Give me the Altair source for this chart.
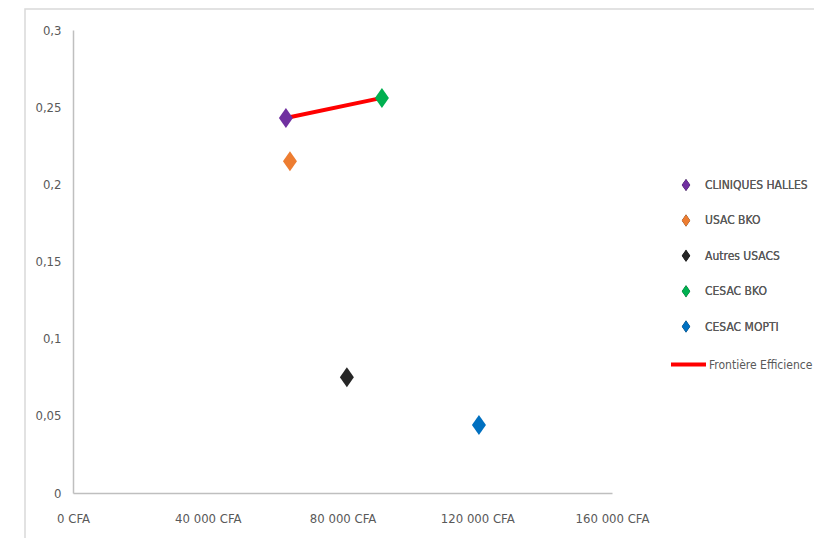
import altair as alt
import pandas as pd

names = ["CLINIQUES HALLES", "USAC BKO", "Autres USACS", "CESAC BKO", "CESAC MOPTI"]
cost = [63200, 64400, 81300, 91700, 120500]
effect = [0.243, 0.215, 0.075, 0.256, 0.044]
colors = ["#7030A0", "#ED7D31", "#262626", "#00B050", "#0070C0"]
frontier_label = "Frontière Efficience"
frontier_color = "#FF0000"
frontier_names = ["CLINIQUES HALLES", "CESAC BKO"]

FONT = "DejaVu Sans Condensed, Liberation Sans Narrow, Roboto Condensed, Roboto, sans-serif"
GREY = "#595959"

pts = pd.DataFrame({"name": names, "cost": cost, "effect": effect})
front = pts[pts["name"].isin(frontier_names)].sort_values("cost").copy()
front["label"] = frontier_label

diamond = "M0,-1L0.7,0L0,1L-0.7,0Z"

xscale = alt.Scale(domain=[0, 160000], nice=False, zero=True)
yscale = alt.Scale(domain=[0, 0.3], nice=False)

xaxis = alt.Axis(values=[0, 40000, 80000, 120000, 160000], title=None, grid=False, ticks=False,
                 labelExpr="replace(format(datum.value, ','), ',', ' ') + ' CFA'",
                 labelFont=FONT, labelFontSize=13, labelColor=GREY, labelPadding=19,
                 domainColor="#BFBFBF", domainWidth=1.5, labelFlush=False, zindex=1)
yaxis = alt.Axis(values=[0, 0.05, 0.1, 0.15, 0.2, 0.25, 0.3], title=None, grid=False, ticks=False,
                 labelExpr="replace(format(datum.value, '.2~f'), '.', ',')",
                 labelFont=FONT, labelFontSize=13, labelColor=GREY, labelPadding=12,
                 domainColor="#BFBFBF", domainWidth=1.5, zindex=1)

pt_legend = alt.Legend(
    title=None, orient="none", legendX=607, legendY=149,
    labelFont=FONT, labelFontSize=12, labelColor=GREY, labelOffset=13,
    symbolSize=144, rowPadding=23.4, symbolStrokeWidth=0, symbolType=diamond, labelLimit=300,
)
line_legend = alt.Legend(
    title=None, orient="none", legendX=596, legendY=315,
    labelFont=FONT, labelFontSize=12, labelColor=GREY, labelOffset=1,
    symbolType="stroke", symbolSize=1225, symbolStrokeWidth=4, labelLimit=300,
)

border = alt.Chart(pd.DataFrame({"a": [0]})).mark_rect(
    fillOpacity=0, stroke="#D9D9D9", strokeWidth=1.5
).encode(x=alt.value(-48), y=alt.value(-21), x2=alt.value(900), y2=alt.value(700))

line = alt.Chart(front).mark_line(strokeWidth=4).encode(
    x=alt.X("cost:Q", scale=xscale, axis=xaxis),
    y=alt.Y("effect:Q", scale=yscale, axis=yaxis),
    color=alt.Color("label:N", scale=alt.Scale(domain=[frontier_label], range=[frontier_color]),
                    legend=line_legend),
)

points = alt.Chart(pts).mark_point(filled=True, size=400, opacity=1).encode(
    x=alt.X("cost:Q", scale=xscale, axis=xaxis),
    y=alt.Y("effect:Q", scale=yscale, axis=yaxis),
    color=alt.Color("name:N", scale=alt.Scale(domain=names, range=colors), legend=pt_legend),
    shape=alt.Shape("name:N", scale=alt.Scale(domain=names, range=[diamond] * 5), legend=pt_legend),
)

chart = alt.layer(border, line, points).resolve_scale(color="independent").properties(
    width=539, height=463,
    background="white",
    autosize=alt.AutoSizeParams(type="none"),
    padding={"left": 65, "top": 22, "right": 202, "bottom": 45},
).configure_view(strokeWidth=0)

chart.save("out.html", embed_options={"renderer": "svg", "actions": False})
